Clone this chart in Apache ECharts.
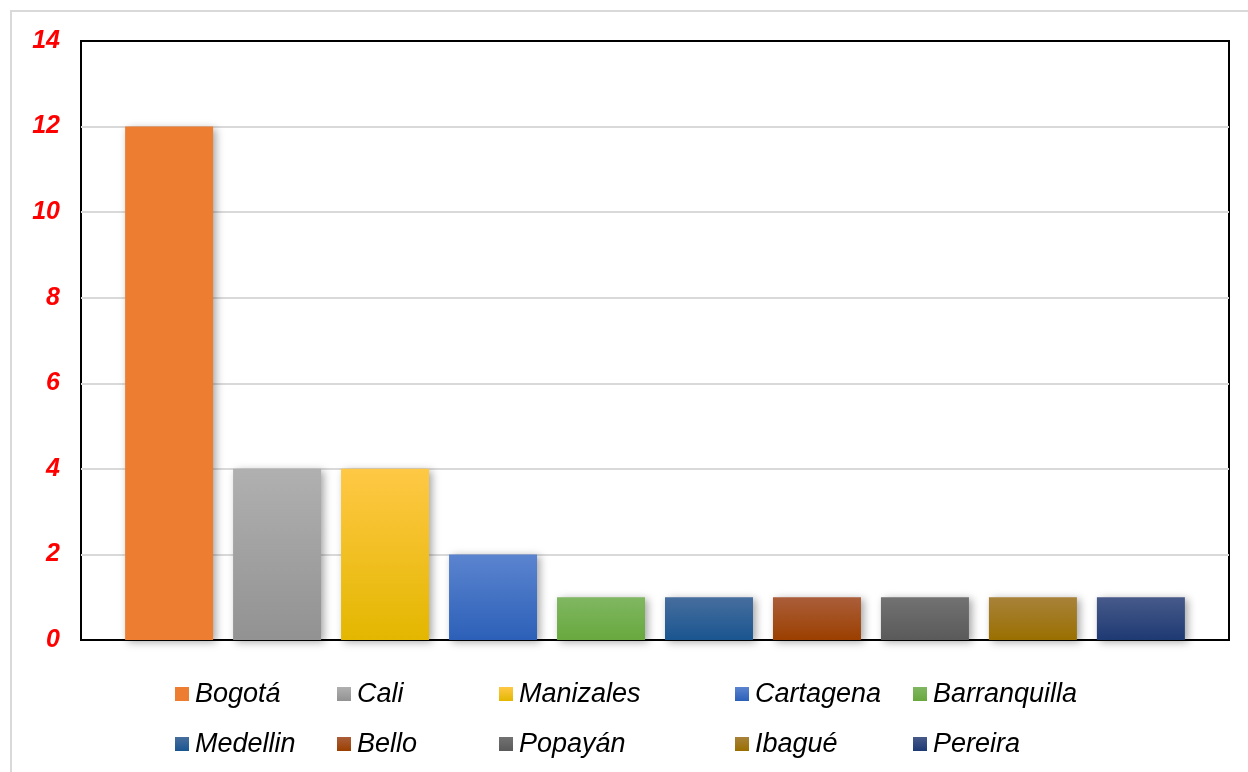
<!DOCTYPE html>
<html>
<head>
<meta charset="utf-8">
<script src="https://cdn.jsdelivr.net/npm/echarts@6/dist/echarts.min.js"></script>
<style>
  html, body { margin: 0; padding: 0; background: #fff; }
  #chart { width: 1248px; height: 772px; }
</style>
</head>
<body>
<div id="chart"></div>
<script>
// data
const cities = ['Bogotá', 'Cali', 'Manizales', 'Cartagena', 'Barranquilla',
                'Medellin', 'Bello', 'Popayán', 'Ibagué', 'Pereira'];
const counts = [12, 4, 4, 2, 1, 1, 1, 1, 1, 1];
const yTicks = [0, 2, 4, 6, 8, 10, 12, 14];

// top / bottom colour of each bar gradient
const topColors = ['#ED7D31', '#B0B0B0', '#FFC845', '#5B84CF', '#80B762',
                   '#476E9E', '#AB5E3A', '#727272', '#A8823A', '#475A8A'];
const bottomColors = ['#ED7D31', '#929292', '#E3B700', '#2C60B8', '#68A83E',
                      '#1A5590', '#9B3F00', '#5A5A5A', '#9A6F00', '#1E3A73'];

const chartDom = document.getElementById('chart');
const myChart = echarts.init(chartDom, null, { renderer: 'canvas' });

const series = cities.map((name, i) => ({
  name: name,
  type: 'bar',
  data: [counts[i]],
  barWidth: 88,
  barGap: '22.7%',
  itemStyle: {
    color: {
      type: 'linear', x: 0, y: 0, x2: 0, y2: 1,
      colorStops: [
        { offset: 0, color: topColors[i] },
        { offset: 1, color: bottomColors[i] }
      ]
    },
    shadowBlur: 8,
    shadowOffsetX: 3,
    shadowOffsetY: 2,
    shadowColor: 'rgba(0,0,0,0.35)'
  },
  emphasis: { disabled: true }
}));

// legend laid out like the original: 5 columns of 2 rows
const legendCols = [175, 337, 499, 735, 913];
const legends = legendCols.map((x, c) => ({
  orient: 'vertical',
  left: x,
  top: 679,
  padding: 0,
  itemWidth: 14,
  itemHeight: 14,
  itemGap: 20,
  icon: 'rect',
  data: [cities[c], cities[c + 5]],
  textStyle: {
    fontFamily: 'Liberation Sans, Arial, sans-serif',
    fontStyle: 'italic',
    fontSize: 27,
    lineHeight: 30,
    color: '#000',
    padding: [0, 0, 0, 1]
  },
  selectedMode: false
}));

const option = {
  backgroundColor: '#fff',
  animation: false,
  graphic: [{
    type: 'rect',
    shape: { x: 11, y: 11, width: 1250, height: 800 },
    style: { fill: 'none', stroke: '#d9d9d9', lineWidth: 2 },
    silent: true
  }],
  grid: {
    left: 81, top: 41, width: 1148, height: 599,
    show: true,
    borderColor: '#000',
    borderWidth: 2,
    backgroundColor: 'transparent'
  },
  legend: legends,
  xAxis: {
    type: 'category',
    data: [''],
    axisLine: { show: true, lineStyle: { color: '#000', width: 2 } },
    axisTick: { show: false },
    axisLabel: { show: false },
    splitLine: { show: false }
  },
  yAxis: {
    type: 'value',
    min: yTicks[0],
    max: yTicks[yTicks.length - 1],
    interval: 2,
    axisLine: { show: false },
    axisTick: { show: false },
    splitLine: {
      showMaxLine: false,
      lineStyle: { color: '#d9d9d9', width: 2 }
    },
    axisLabel: {
      margin: 21,
      color: '#FF0000',
      fontFamily: 'Liberation Sans, Arial, sans-serif',
      fontStyle: 'italic',
      fontWeight: 'bold',
      fontSize: 25
    }
  },
  series: series
};

option && myChart.setOption(option);
</script>
</body>
</html>
